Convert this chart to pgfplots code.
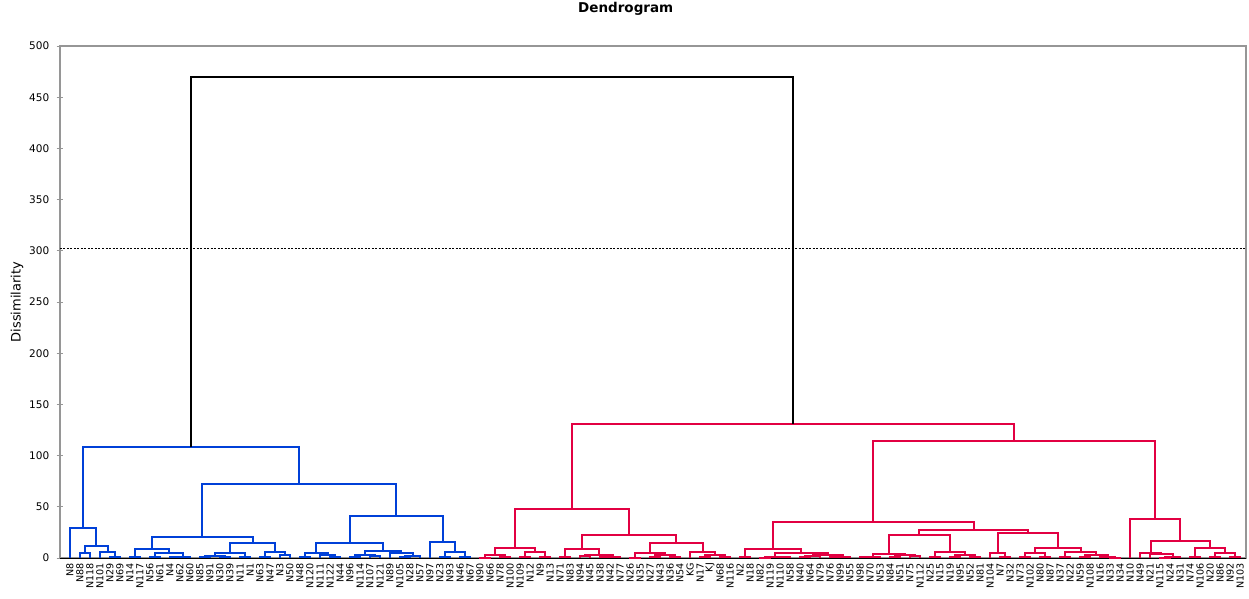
\documentclass[border=0pt]{standalone}
\usepackage{fontspec}
\setmainfont{DejaVu Sans}
\usepackage{pgfplots}
\pgfplotsset{compat=1.18}
\definecolor{dblue}{RGB}{0,64,216}
\definecolor{dred}{RGB}{226,0,66}
\definecolor{axgray}{RGB}{150,150,150}
\begin{document}
\begin{tikzpicture}
\path[use as bounding box] (-60pt,-40pt) rectangle (1189pt,558pt);
\begin{axis}[
  at={(0pt,0pt)}, anchor=south west,
  scale only axis, width=1186pt, height=512pt,
  xmin=0, xmax=118.6, ymin=0, ymax=500,
  clip=false,
  unbounded coords=jump,
  axis line style={axgray, line width=1.2pt},
  ytick={0,50,...,500},
  ytick pos=left,
  ytick style={axgray, line width=1pt},
  tick align=center, major tick length=6.5pt,
  xtick={1,...,118},
  xtick style={draw=none},
  xticklabels={N8,N88,N118,N101,N29,N69,N14,N117,N56,N61,N4,N62,N60,N85,N91,N30,N39,N11,N1,N63,N47,N3,N50,N48,N120,N111,N122,N44,N96,N114,N107,N121,N89,N105,N28,N57,N97,N23,N93,N46,N67,N90,N66,N78,N100,N109,N12,N9,N13,N71,N83,N94,N45,N38,N42,N77,N26,N35,N27,N43,N36,N54,KG,N17,KJ,N68,N116,N2,N18,N82,N119,N110,N58,N40,N64,N79,N76,N99,N55,N98,N70,N53,N84,N51,N75,N112,N25,N15,N19,N95,N52,N81,N104,N7,N32,N73,N102,N80,N87,N37,N22,N59,N108,N16,N33,N34,N10,N49,N21,N115,N24,N31,N74,N106,N20,N86,N92,N103},
  xticklabel style={rotate=90, anchor=east, font=\fontsize{9.6}{10}\selectfont, inner sep=1.5pt},
  yticklabel style={font=\fontsize{10.5}{12}\selectfont, /pgf/number format/assume math mode=true, xshift=-4pt},
  ylabel={Dissimilarity},
  ylabel style={at={(axis description cs:-0.0363,0.5)}, anchor=center, font=\fontsize{13}{15}\selectfont},
  title={Dendrogram},
  title style={at={(axis description cs:0.477,1.0605)}, anchor=center, font=\bfseries\fontsize{13.5}{16}\selectfont},
]
% baseline
\addplot[black, line width=0.8pt] coordinates {(0,0) (118.6,0)};
% threshold
\addplot[black, line width=0.8pt, dash pattern=on 2pt off 1.5pt] coordinates {(0,302) (118.6,302)};
% blue cluster
\addplot[dblue, line width=2pt, line join=miter] coordinates {
(2,0)(2,5)(3,5)(3,0)(3,nan)
(5,0)(5,1)(6,1)(6,0)(6,nan)
(4,0)(4,6)(5.5,6)(5.5,1)(5.5,nan)
(2.5,5)(2.5,12)(4.75,12)(4.75,6)(4.75,nan)
(1,0)(1,29)(3.625,29)(3.625,12)(3.625,nan)
(7,0)(7,0.6)(8,0.6)(8,0)(8,nan)
(9,0)(9,0.8)(10,0.8)(10,0)(10,nan)
(11,0)(11,0.5)(12,0.5)(12,0)(12,nan)
(11.5,0.5)(11.5,1.2)(13,1.2)(13,0)(13,nan)
(9.5,0.8)(9.5,5)(12.25,5)(12.25,1.2)(12.25,nan)
(7.5,0.6)(7.5,9)(10.875,9)(10.875,5)(10.875,nan)
(14,0)(14,0.5)(15,0.5)(15,0)(15,nan)
(16,0)(16,1)(17,1)(17,0)(17,nan)
(14.5,0.5)(14.5,2)(16.5,2)(16.5,1)(16.5,nan)
(18,0)(18,1)(19,1)(19,0)(19,nan)
(15.5,2)(15.5,4.5)(18.5,4.5)(18.5,1)(18.5,nan)
(20,0)(20,0.5)(21,0.5)(21,0)(21,nan)
(22,0)(22,2.5)(23,2.5)(23,0)(23,nan)
(20.5,0.5)(20.5,6)(22.5,6)(22.5,2.5)(22.5,nan)
(17,4.5)(17,15)(21.5,15)(21.5,6)(21.5,nan)
(9.1875,9)(9.1875,21)(19.25,21)(19.25,15)(19.25,nan)
(24,0)(24,1)(25,1)(25,0)(25,nan)
(27,0)(27,1)(28,1)(28,0)(28,nan)
(26,0)(26,3)(27.5,3)(27.5,1)(27.5,nan)
(24.5,1)(24.5,5)(26.75,5)(26.75,3)(26.75,nan)
(29,0)(29,0.5)(30,0.5)(30,0)(30,nan)
(31,0)(31,1.5)(32,1.5)(32,0)(32,nan)
(29.5,0.5)(29.5,2.5)(31.5,2.5)(31.5,1.5)(31.5,nan)
(34,0)(34,1)(35,1)(35,0)(35,nan)
(34.5,1)(34.5,2)(36,2)(36,0)(36,nan)
(33,0)(33,4.5)(35.25,4.5)(35.25,2)(35.25,nan)
(30.5,2.5)(30.5,7)(34.125,7)(34.125,4.5)(34.125,nan)
(25.625,5)(25.625,15)(32.3125,15)(32.3125,7)(32.3125,nan)
(38,0)(38,0.5)(39,0.5)(39,0)(39,nan)
(40,0)(40,0.5)(41,0.5)(41,0)(41,nan)
(38.5,0.5)(38.5,6)(40.5,6)(40.5,0.5)(40.5,nan)
(37,0)(37,16)(39.5,16)(39.5,6)(39.5,nan)
(28.97,15)(28.97,41)(38.25,41)(38.25,16)(38.25,nan)
(14.22,21)(14.22,72)(33.61,72)(33.61,41)(33.61,nan)
(2.3125,29)(2.3125,108)(23.915,108)(23.915,72)
};
% red cluster
\addplot[dred, line width=2pt, line join=miter] coordinates {
(42,0)(42,0.3)(43,0.3)(43,0)(43,nan)
(44,0)(44,0.5)(45,0.5)(45,0)(45,nan)
(42.5,0.3)(42.5,2.5)(44.5,2.5)(44.5,0.5)(44.5,nan)
(46,0)(46,0.5)(47,0.5)(47,0)(47,nan)
(48,0)(48,0.5)(49,0.5)(49,0)(49,nan)
(46.5,0.5)(46.5,6)(48.5,6)(48.5,0.5)(48.5,nan)
(43.5,2.5)(43.5,10)(47.5,10)(47.5,6)(47.5,nan)
(50,0)(50,0.5)(51,0.5)(51,0)(51,nan)
(52,0)(52,2)(53,2)(53,0)(53,nan)
(54,0)(54,0.5)(55,0.5)(55,0)(55,nan)
(54.5,0.5)(54.5,1)(56,1)(56,0)(56,nan)
(52.5,2)(52.5,3)(55.25,3)(55.25,1)(55.25,nan)
(50.5,0.5)(50.5,9)(53.875,9)(53.875,3)(53.875,nan)
(57,0)(57,0.3)(58,0.3)(58,0)(58,nan)
(59,0)(59,1)(60,1)(60,0)(60,nan)
(61,0)(61,1)(62,1)(62,0)(62,nan)
(59.5,1)(59.5,2.5)(61.5,2.5)(61.5,1)(61.5,nan)
(57.5,0.3)(57.5,4.5)(60.5,4.5)(60.5,2.5)(60.5,nan)
(64,0)(64,0.5)(65,0.5)(65,0)(65,nan)
(66,0)(66,0.5)(67,0.5)(67,0)(67,nan)
(64.5,0.5)(64.5,2.5)(66.5,2.5)(66.5,0.5)(66.5,nan)
(63,0)(63,5.5)(65.5,5.5)(65.5,2.5)(65.5,nan)
(59,4.5)(59,15)(64.25,15)(64.25,5.5)(64.25,nan)
(52.1875,9)(52.1875,22)(61.625,22)(61.625,15)(61.625,nan)
(45.5,10)(45.5,48)(56.906,48)(56.906,22)(56.906,nan)
(68,0)(68,0.5)(69,0.5)(69,0)(69,nan)
(70,0)(70,0.3)(71,0.3)(71,0)(71,nan)
(72,0)(72,0.5)(73,0.5)(73,0)(73,nan)
(70.5,0.3)(70.5,1)(72.5,1)(72.5,0.5)(72.5,nan)
(74,0)(74,1)(75,1)(75,0)(75,nan)
(74.5,1)(74.5,2)(76,2)(76,0)(76,nan)
(77,0)(77,0.5)(78,0.5)(78,0)(78,nan)
(77.5,0.5)(77.5,1)(79,1)(79,0)(79,nan)
(75.25,2)(75.25,3)(78.25,3)(78.25,1)(78.25,nan)
(71.5,1)(71.5,4.5)(76.75,4.5)(76.75,3)(76.75,nan)
(68.5,0.5)(68.5,8.5)(74.125,8.5)(74.125,4.5)(74.125,nan)
(80,0)(80,0.5)(81,0.5)(81,0)(81,nan)
(80.5,0.5)(80.5,1)(82,1)(82,0)(82,nan)
(83,0)(83,0.5)(84,0.5)(84,0)(84,nan)
(85,0)(85,1.5)(86,1.5)(86,0)(86,nan)
(83.5,0.5)(83.5,2.5)(85.5,2.5)(85.5,1.5)(85.5,nan)
(81.25,1)(81.25,4)(84.5,4)(84.5,2.5)(84.5,nan)
(87,0)(87,0.5)(88,0.5)(88,0)(88,nan)
(89,0)(89,1)(90,1)(90,0)(90,nan)
(91,0)(91,1)(92,1)(92,0)(92,nan)
(89.5,1)(89.5,3)(91.5,3)(91.5,1)(91.5,nan)
(87.5,0.5)(87.5,6)(90.5,6)(90.5,3)(90.5,nan)
(82.875,4)(82.875,22)(89,22)(89,6)(89,nan)
(94,0)(94,0.5)(95,0.5)(95,0)(95,nan)
(93,0)(93,5)(94.5,5)(94.5,0.5)(94.5,nan)
(96,0)(96,0.5)(97,0.5)(97,0)(97,nan)
(98,0)(98,0.5)(99,0.5)(99,0)(99,nan)
(96.5,0.5)(96.5,4.5)(98.5,4.5)(98.5,0.5)(98.5,nan)
(100,0)(100,0.5)(101,0.5)(101,0)(101,nan)
(102,0)(102,0.5)(103,0.5)(103,0)(103,nan)
(105,0)(105,0.3)(106,0.3)(106,0)(106,nan)
(104,0)(104,1)(105.5,1)(105.5,0.3)(105.5,nan)
(102.5,0.5)(102.5,3)(104.75,3)(104.75,1)(104.75,nan)
(100.5,0.5)(100.5,6)(103.625,6)(103.625,3)(103.625,nan)
(97.5,4.5)(97.5,10)(102.0625,10)(102.0625,6)(102.0625,nan)
(93.75,5)(93.75,24)(99.78,24)(99.78,10)(99.78,nan)
(85.9375,22)(85.9375,27.5)(96.765,27.5)(96.765,24)(96.765,nan)
(71.3125,8.5)(71.3125,35)(91.35,35)(91.35,27.5)(91.35,nan)
(110,0)(110,0.3)(111,0.3)(111,0)(111,nan)
(110.5,0.3)(110.5,0.7)(112,0.7)(112,0)(112,nan)
(109,0)(109,4)(111.25,4)(111.25,0.7)(111.25,nan)
(108,0)(108,5)(110.125,5)(110.125,4)(110.125,nan)
(113,0)(113,0.5)(114,0.5)(114,0)(114,nan)
(115,0)(115,0.5)(116,0.5)(116,0)(116,nan)
(117,0)(117,0.5)(118,0.5)(118,0)(118,nan)
(115.5,0.5)(115.5,4.5)(117.5,4.5)(117.5,0.5)(117.5,nan)
(113.5,0.5)(113.5,10)(116.5,10)(116.5,4.5)(116.5,nan)
(109.0625,5)(109.0625,17)(115,17)(115,10)(115,nan)
(107,0)(107,38)(112.03,38)(112.03,17)(112.03,nan)
(81.33,35)(81.33,114)(109.515,114)(109.515,38)(109.515,nan)
(51.203,48)(51.203,131)(95.42,131)(95.42,114)
};
% top merge
\addplot[black, line width=2pt, line join=miter] coordinates {(13.11,108)(13.11,470)(73.31,470)(73.31,131)};
\end{axis}
\end{tikzpicture}
\end{document}
